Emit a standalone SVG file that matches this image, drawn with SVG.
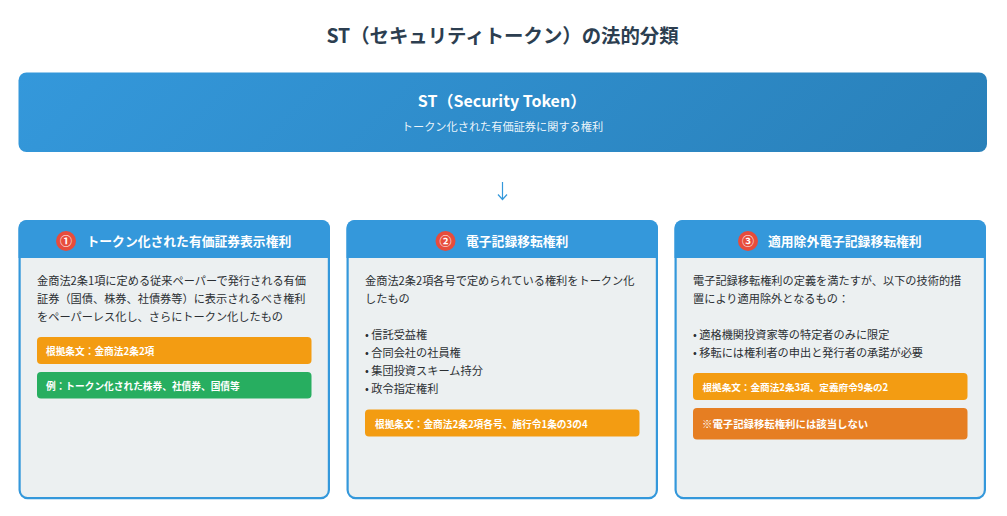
<svg xmlns="http://www.w3.org/2000/svg" width="1007" height="516" viewBox="0 0 1007 516">
<style>
text{font-family:"Noto Sans CJK JP","Noto Sans",sans-serif}
.t{font-size:11.2px;fill:#2b2f33}
.h{font-size:12.8px;font-weight:700;fill:#fff}
.l{font-size:9.7px;font-weight:700;fill:#fff}
.m{font-size:9.6px;font-weight:700;fill:#fff}
.w{font-size:10.4px;font-weight:700;fill:#fff}
.n{font-size:12px;font-weight:700;fill:#fff;text-anchor:middle}
.card{fill:#ecf0f1;stroke:#3498db;stroke-width:2.2}
.head{fill:#3498db}
.badge{fill:#e74c3c}
.or{fill:#f39c12}
.gr{fill:#27ae60}
.dk{fill:#e67e22}
</style>
<defs>
<linearGradient id="g" gradientUnits="userSpaceOnUse" x1="240.250" y1="-150.250" x2="764.750" y2="374.250"><stop offset="0" stop-color="#3498db"/><stop offset="1" stop-color="#2980b9"/></linearGradient>
</defs>
<rect width="1007" height="516" fill="#fff"/>
<text x="502.500" y="43" text-anchor="middle" font-size="19.400" font-weight="700" fill="#2c3e50">ST（セキュリティトークン）の法的分類</text>
<g id="st">
<rect x="18.500" y="72.500" width="968.500" height="79.500" rx="8" fill="url(#g)"/>
<text x="502" y="107" text-anchor="middle" font-size="16" font-weight="700" fill="#fff">ST（Security Token）</text>
<text x="502.500" y="131" text-anchor="middle" font-size="11.200" fill="#fff" fill-opacity=".92">トークン化された有価証券に関する権利</text>
</g>
<g id="connectors">
<path d="M502.500 182V199M498 194.500L502.500 199.500L507 194.500" fill="none" stroke="#3498db" stroke-width="1.200"/>
</g>
<g id="card1">
<rect class="card" x="19.600" y="221.100" width="309.300" height="277" rx="8"/>
<path class="head" d="M18.500 258V228a8 8 0 0 1 8-8H322a8 8 0 0 1 8 8V258Z"/>
<circle class="badge" cx="66" cy="241" r="10"/>
<text class="n" x="66" y="245.500">①</text>
<text class="h" x="86.500" y="246">トークン化された有価証券表示権利</text>
<text class="t" x="37" y="285">金商法2条1項に定める従来ペーパーで発行される有価</text>
<text class="t" x="37" y="303">証券（国債、株券、社債券等）に表示されるべき権利</text>
<text class="t" x="37" y="321">をペーパーレス化し、さらにトークン化したもの</text>
<rect class="or" x="37" y="337" width="274.500" height="27" rx="4"/>
<text class="l" x="46" y="355">根拠条文：金商法2条2項</text>
<rect class="gr" x="37" y="372" width="274.500" height="26.500" rx="4"/>
<text class="l" x="46" y="389.500">例：トークン化された株券、社債券、国債等</text>
</g>
<g id="card2">
<rect class="card" x="347.600" y="221.100" width="309.300" height="277" rx="8"/>
<path class="head" d="M346.500 258V228a8 8 0 0 1 8-8H650a8 8 0 0 1 8 8V258Z"/>
<circle class="badge" cx="445.500" cy="241" r="10"/>
<text class="n" x="445.500" y="245.500">②</text>
<text class="h" x="466" y="246">電子記録移転権利</text>
<text class="t" x="365" y="285">金商法2条2項各号で定められている権利をトークン化</text>
<text class="t" x="365" y="303">したもの</text>
<text class="t" x="365" y="339">• 信託受益権</text>
<text class="t" x="365" y="357">• 合同会社の社員権</text>
<text class="t" x="365" y="375">• 集団投資スキーム持分</text>
<text class="t" x="365" y="393">• 政令指定権利</text>
<rect class="or" x="365" y="409.500" width="274.500" height="27" rx="4"/>
<text class="l" x="375" y="428">根拠条文：金商法2条2項各号、施行令1条の3の4</text>
</g>
<g id="card3">
<rect class="card" x="675.600" y="221.100" width="309.300" height="277" rx="8"/>
<path class="head" d="M674.500 258V228a8 8 0 0 1 8-8H978a8 8 0 0 1 8 8V258Z"/>
<circle class="badge" cx="748" cy="241" r="10"/>
<text class="n" x="748" y="245.500">③</text>
<text class="h" x="768" y="246">適用除外電子記録移転権利</text>
<text class="t" x="693" y="285">電子記録移転権利の定義を満たすが、以下の技術的措</text>
<text class="t" x="693" y="303">置により適用除外となるもの：</text>
<text class="t" x="693" y="339">• 適格機関投資家等の特定者のみに限定</text>
<text class="t" x="693" y="357">• 移転には権利者の申出と発行者の承諾が必要</text>
<rect class="or" x="693" y="373" width="274.500" height="27" rx="4"/>
<text class="m" x="702.500" y="391">根拠条文：金商法2条3項、定義府令9条の2</text>
<rect class="dk" x="693" y="408" width="274.500" height="31.500" rx="4"/>
<text class="w" x="702" y="428">※電子記録移転権利には該当しない</text>
</g>
</svg>
